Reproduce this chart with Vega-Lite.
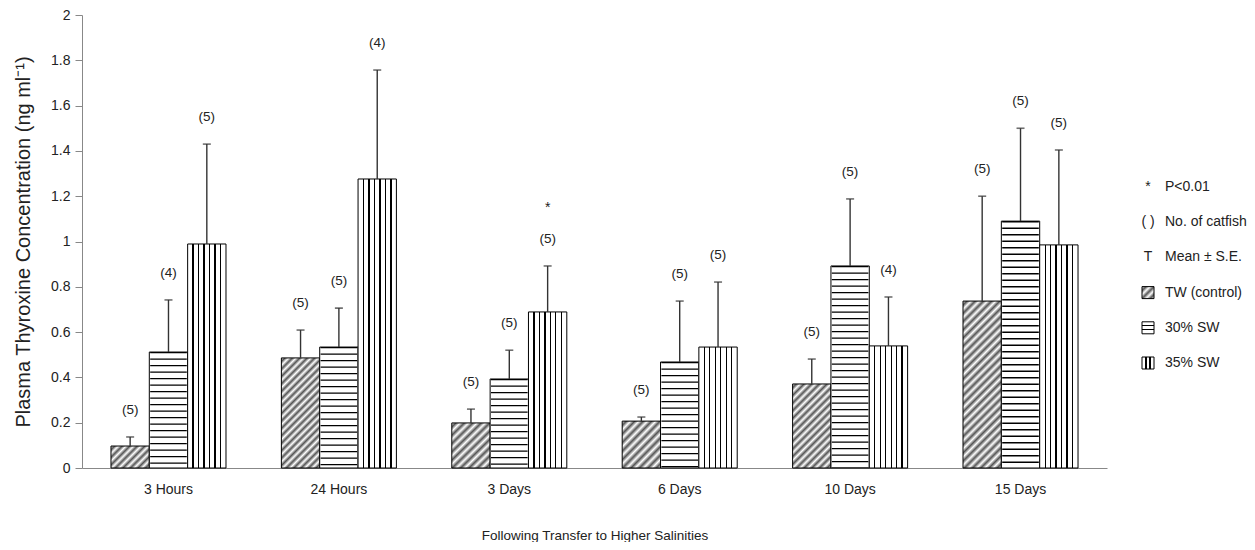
{
  "$schema": "https://vega.github.io/schema/vega-lite/v6.json",
  "background": "white",
  "padding": {"left": 13, "top": 8, "right": 0, "bottom": 0},
  "spacing": 20,
  "config": {"font": "Liberation Sans", "view": {"stroke": null}},
  "datasets": {
    "bars": [
      {"time": "3 Hours", "series": "TW (control)", "mean": 0.097, "hi": 0.137, "n": "(5)", "sig": ""},
      {"time": "3 Hours", "series": "30% SW", "mean": 0.512, "hi": 0.742, "n": "(4)", "sig": ""},
      {"time": "3 Hours", "series": "35% SW", "mean": 0.989, "hi": 1.43, "n": "(5)", "sig": ""},
      {"time": "24 Hours", "series": "TW (control)", "mean": 0.486, "hi": 0.609, "n": "(5)", "sig": ""},
      {"time": "24 Hours", "series": "30% SW", "mean": 0.534, "hi": 0.706, "n": "(5)", "sig": ""},
      {"time": "24 Hours", "series": "35% SW", "mean": 1.276, "hi": 1.757, "n": "(4)", "sig": ""},
      {"time": "3 Days", "series": "TW (control)", "mean": 0.199, "hi": 0.26, "n": "(5)", "sig": ""},
      {"time": "3 Days", "series": "30% SW", "mean": 0.393, "hi": 0.52, "n": "(5)", "sig": ""},
      {"time": "3 Days", "series": "35% SW", "mean": 0.689, "hi": 0.892, "n": "(5)", "sig": "*"},
      {"time": "6 Days", "series": "TW (control)", "mean": 0.207, "hi": 0.225, "n": "(5)", "sig": ""},
      {"time": "6 Days", "series": "30% SW", "mean": 0.468, "hi": 0.737, "n": "(5)", "sig": ""},
      {"time": "6 Days", "series": "35% SW", "mean": 0.534, "hi": 0.821, "n": "(5)", "sig": ""},
      {"time": "10 Days", "series": "TW (control)", "mean": 0.371, "hi": 0.481, "n": "(5)", "sig": ""},
      {"time": "10 Days", "series": "30% SW", "mean": 0.892, "hi": 1.188, "n": "(5)", "sig": ""},
      {"time": "10 Days", "series": "35% SW", "mean": 0.539, "hi": 0.755, "n": "(4)", "sig": ""},
      {"time": "15 Days", "series": "TW (control)", "mean": 0.737, "hi": 1.2, "n": "(5)", "sig": ""},
      {"time": "15 Days", "series": "30% SW", "mean": 1.09, "hi": 1.5, "n": "(5)", "sig": ""},
      {"time": "15 Days", "series": "35% SW", "mean": 0.985, "hi": 1.404, "n": "(5)", "sig": ""}
    ],
    "legend": [
      {"item": "P<0.01", "sym": "*"},
      {"item": "No. of catfish", "sym": "( )"},
      {"item": "Mean ± S.E.", "sym": "T"},
      {"item": "TW (control)", "sym": ""},
      {"item": "30% SW", "sym": ""},
      {"item": "35% SW", "sym": ""}
    ]
  },
  "hconcat": [
    {
      "width": 1025,
      "height": 453,
      "data": {"name": "bars"},
      "encoding": {
        "x": {
          "field": "time", "type": "nominal", "sort": null,
          "scale": {"paddingInner": 0.325, "paddingOuter": 0.17},
          "axis": {
            "title": "Following Transfer to Higher Salinities",
            "labelAngle": 0, "ticks": false, "labelPadding": 14,
            "labelFontSize": 14, "labelColor": "#222",
            "titleFontSize": 13.5, "titleFontWeight": "normal", "titleColor": "#222", "titlePadding": 32,
            "domainColor": "#888"
          }
        },
        "xOffset": {
          "field": "series", "type": "nominal", "sort": null,
          "scale": {"domain": ["TW (control)", "30% SW", "35% SW"], "paddingInner": 0, "paddingOuter": 0}
        }
      },
      "layer": [
        {
          "mark": {"type": "bar", "stroke": "#000", "strokeWidth": 1},
          "encoding": {
            "y": {
              "field": "mean", "type": "quantitative",
              "title": "Plasma Thyroxine Concentration (ng ml⁻¹)",
              "scale": {"domain": [0, 2]},
              "axis": {
                "values": [0, 0.2, 0.4, 0.6, 0.8, 1, 1.2, 1.4, 1.6, 1.8, 2],
                "format": "~g", "grid": false,
                "tickSize": 7, "tickColor": "#888", "domainColor": "#888",
                "labelFontSize": 14, "labelColor": "#222", "labelPadding": 5,
                "titleFontSize": 20, "titleFontWeight": "normal", "titleColor": "#222", "titlePadding": 17
              }
            },
            "fill": {
              "condition": [
                {"test": "datum.series === '35% SW'", "value": {"gradient": "linear", "x1": 0, "y1": 0, "x2": 1, "y2": 0, "stops": [
                  {"offset": 0, "color": "#fff"}, {"offset": 0.126, "color": "#fff"}, {"offset": 0.126, "color": "#000"}, {"offset": 0.16, "color": "#000"}, {"offset": 0.16, "color": "#fff"},
                  {"offset": 0.269, "color": "#fff"}, {"offset": 0.269, "color": "#000"}, {"offset": 0.303, "color": "#000"}, {"offset": 0.303, "color": "#fff"},
                  {"offset": 0.412, "color": "#fff"}, {"offset": 0.412, "color": "#000"}, {"offset": 0.446, "color": "#000"}, {"offset": 0.446, "color": "#fff"},
                  {"offset": 0.554, "color": "#fff"}, {"offset": 0.554, "color": "#000"}, {"offset": 0.588, "color": "#000"}, {"offset": 0.588, "color": "#fff"},
                  {"offset": 0.697, "color": "#fff"}, {"offset": 0.697, "color": "#000"}, {"offset": 0.731, "color": "#000"}, {"offset": 0.731, "color": "#fff"},
                  {"offset": 0.84, "color": "#fff"}, {"offset": 0.84, "color": "#000"}, {"offset": 0.874, "color": "#000"}, {"offset": 0.874, "color": "#fff"},
                  {"offset": 1, "color": "#fff"}]}},
                {"test": "datum.series === 'TW (control)' && datum.time === '3 Hours'", "value": {"gradient": "linear", "x1": 0, "y1": 0, "x2": 1.184, "y2": 0.679, "stops": [
                  {"offset": 0, "color": "#fff"}, {"offset": 0.0625, "color": "#555"}, {"offset": 0.125, "color": "#fff"}, {"offset": 0.1875, "color": "#555"},
                  {"offset": 0.25, "color": "#fff"}, {"offset": 0.3125, "color": "#555"}, {"offset": 0.375, "color": "#fff"}, {"offset": 0.4375, "color": "#555"},
                  {"offset": 0.5, "color": "#fff"}, {"offset": 0.5625, "color": "#555"}, {"offset": 0.625, "color": "#fff"}, {"offset": 0.6875, "color": "#555"},
                  {"offset": 0.75, "color": "#fff"}, {"offset": 0.8125, "color": "#555"}, {"offset": 0.875, "color": "#fff"}, {"offset": 0.9375, "color": "#555"},
                  {"offset": 1, "color": "#fff"}]}},
                {"test": "datum.series === 'TW (control)' && datum.time === '24 Hours'", "value": {"gradient": "linear", "x1": 0, "y1": 0, "x2": 0.42, "y2": 1.2025, "stops": [
                  {"offset": 0, "color": "#fff"}, {"offset": 0.025, "color": "#555"}, {"offset": 0.05, "color": "#fff"}, {"offset": 0.075, "color": "#555"},
                  {"offset": 0.1, "color": "#fff"}, {"offset": 0.125, "color": "#555"}, {"offset": 0.15, "color": "#fff"}, {"offset": 0.175, "color": "#555"},
                  {"offset": 0.2, "color": "#fff"}, {"offset": 0.225, "color": "#555"}, {"offset": 0.25, "color": "#fff"}, {"offset": 0.275, "color": "#555"},
                  {"offset": 0.3, "color": "#fff"}, {"offset": 0.325, "color": "#555"}, {"offset": 0.35, "color": "#fff"}, {"offset": 0.375, "color": "#555"},
                  {"offset": 0.4, "color": "#fff"}, {"offset": 0.425, "color": "#555"}, {"offset": 0.45, "color": "#fff"}, {"offset": 0.475, "color": "#555"},
                  {"offset": 0.5, "color": "#fff"}, {"offset": 0.525, "color": "#555"}, {"offset": 0.55, "color": "#fff"}, {"offset": 0.575, "color": "#555"},
                  {"offset": 0.6, "color": "#fff"}, {"offset": 0.625, "color": "#555"}, {"offset": 0.65, "color": "#fff"}, {"offset": 0.675, "color": "#555"},
                  {"offset": 0.7, "color": "#fff"}, {"offset": 0.725, "color": "#555"}, {"offset": 0.75, "color": "#fff"}, {"offset": 0.775, "color": "#555"},
                  {"offset": 0.8, "color": "#fff"}, {"offset": 0.825, "color": "#555"}, {"offset": 0.85, "color": "#fff"}, {"offset": 0.875, "color": "#555"},
                  {"offset": 0.9, "color": "#fff"}, {"offset": 0.925, "color": "#555"}, {"offset": 0.95, "color": "#fff"}, {"offset": 0.975, "color": "#555"},
                  {"offset": 1, "color": "#fff"}]}},
                {"test": "datum.series === 'TW (control)' && (datum.time === '3 Days' || datum.time === '6 Days')", "value": {"gradient": "linear", "x1": 0, "y1": 0, "x2": 0.902, "y2": 1.082, "stops": [
                  {"offset": 0, "color": "#fff"}, {"offset": 0.05, "color": "#555"}, {"offset": 0.1, "color": "#fff"}, {"offset": 0.15, "color": "#555"},
                  {"offset": 0.2, "color": "#fff"}, {"offset": 0.25, "color": "#555"}, {"offset": 0.3, "color": "#fff"}, {"offset": 0.35, "color": "#555"},
                  {"offset": 0.4, "color": "#fff"}, {"offset": 0.45, "color": "#555"}, {"offset": 0.5, "color": "#fff"}, {"offset": 0.55, "color": "#555"},
                  {"offset": 0.6, "color": "#fff"}, {"offset": 0.65, "color": "#555"}, {"offset": 0.7, "color": "#fff"}, {"offset": 0.75, "color": "#555"},
                  {"offset": 0.8, "color": "#fff"}, {"offset": 0.85, "color": "#555"}, {"offset": 0.9, "color": "#fff"}, {"offset": 0.95, "color": "#555"},
                  {"offset": 1, "color": "#fff"}]}},
                {"test": "datum.series === 'TW (control)' && datum.time === '10 Days'", "value": {"gradient": "linear", "x1": 0, "y1": 0, "x2": 0.55, "y2": 1.205, "stops": [
                  {"offset": 0, "color": "#fff"}, {"offset": 0.03125, "color": "#555"}, {"offset": 0.0625, "color": "#fff"}, {"offset": 0.09375, "color": "#555"},
                  {"offset": 0.125, "color": "#fff"}, {"offset": 0.15625, "color": "#555"}, {"offset": 0.1875, "color": "#fff"}, {"offset": 0.21875, "color": "#555"},
                  {"offset": 0.25, "color": "#fff"}, {"offset": 0.28125, "color": "#555"}, {"offset": 0.3125, "color": "#fff"}, {"offset": 0.34375, "color": "#555"},
                  {"offset": 0.375, "color": "#fff"}, {"offset": 0.40625, "color": "#555"}, {"offset": 0.4375, "color": "#fff"}, {"offset": 0.46875, "color": "#555"},
                  {"offset": 0.5, "color": "#fff"}, {"offset": 0.53125, "color": "#555"}, {"offset": 0.5625, "color": "#fff"}, {"offset": 0.59375, "color": "#555"},
                  {"offset": 0.625, "color": "#fff"}, {"offset": 0.65625, "color": "#555"}, {"offset": 0.6875, "color": "#fff"}, {"offset": 0.71875, "color": "#555"},
                  {"offset": 0.75, "color": "#fff"}, {"offset": 0.78125, "color": "#555"}, {"offset": 0.8125, "color": "#fff"}, {"offset": 0.84375, "color": "#555"},
                  {"offset": 0.875, "color": "#fff"}, {"offset": 0.90625, "color": "#555"}, {"offset": 0.9375, "color": "#fff"}, {"offset": 0.96875, "color": "#555"},
                  {"offset": 1, "color": "#fff"}]}},
                {"test": "datum.series === 'TW (control)' && datum.time === '15 Days'", "value": {"gradient": "linear", "x1": 0, "y1": 0, "x2": 0.269, "y2": 1.168, "stops": [
                  {"offset": 0, "color": "#fff"}, {"offset": 0.02, "color": "#555"}, {"offset": 0.04, "color": "#fff"}, {"offset": 0.06, "color": "#555"},
                  {"offset": 0.08, "color": "#fff"}, {"offset": 0.1, "color": "#555"}, {"offset": 0.12, "color": "#fff"}, {"offset": 0.14, "color": "#555"},
                  {"offset": 0.16, "color": "#fff"}, {"offset": 0.18, "color": "#555"}, {"offset": 0.2, "color": "#fff"}, {"offset": 0.22, "color": "#555"},
                  {"offset": 0.24, "color": "#fff"}, {"offset": 0.26, "color": "#555"}, {"offset": 0.28, "color": "#fff"}, {"offset": 0.3, "color": "#555"},
                  {"offset": 0.32, "color": "#fff"}, {"offset": 0.34, "color": "#555"}, {"offset": 0.36, "color": "#fff"}, {"offset": 0.38, "color": "#555"},
                  {"offset": 0.4, "color": "#fff"}, {"offset": 0.42, "color": "#555"}, {"offset": 0.44, "color": "#fff"}, {"offset": 0.46, "color": "#555"},
                  {"offset": 0.48, "color": "#fff"}, {"offset": 0.5, "color": "#555"}, {"offset": 0.52, "color": "#fff"}, {"offset": 0.54, "color": "#555"},
                  {"offset": 0.56, "color": "#fff"}, {"offset": 0.58, "color": "#555"}, {"offset": 0.6, "color": "#fff"}, {"offset": 0.62, "color": "#555"},
                  {"offset": 0.64, "color": "#fff"}, {"offset": 0.66, "color": "#555"}, {"offset": 0.68, "color": "#fff"}, {"offset": 0.7, "color": "#555"},
                  {"offset": 0.72, "color": "#fff"}, {"offset": 0.74, "color": "#555"}, {"offset": 0.76, "color": "#fff"}, {"offset": 0.78, "color": "#555"},
                  {"offset": 0.8, "color": "#fff"}, {"offset": 0.82, "color": "#555"}, {"offset": 0.84, "color": "#fff"}, {"offset": 0.86, "color": "#555"},
                  {"offset": 0.88, "color": "#fff"}, {"offset": 0.9, "color": "#555"}, {"offset": 0.92, "color": "#fff"}, {"offset": 0.94, "color": "#555"},
                  {"offset": 0.96, "color": "#fff"}, {"offset": 0.98, "color": "#555"}, {"offset": 1, "color": "#fff"}]}}
              ],
              "value": "#fff"
            }
          }
        },
        {
          "transform": [{"filter": "datum.series === '30% SW'"}],
          "mark": {"type": "rule", "strokeWidth": 36.6, "strokeDash": [1.3, 5.2], "color": "#000"},
          "encoding": {
            "y": {"field": "mean", "type": "quantitative", "title": "Plasma Thyroxine Concentration (ng ml⁻¹)"},
            "y2": {"datum": 0}
          }
        },
        {
          "mark": {"type": "rule", "color": "#333", "strokeWidth": 1.4},
          "encoding": {
            "y": {"field": "mean", "type": "quantitative", "title": "Plasma Thyroxine Concentration (ng ml⁻¹)"},
            "y2": {"field": "hi"}
          }
        },
        {
          "mark": {"type": "tick", "color": "#333", "thickness": 1.6, "size": 8},
          "encoding": {
            "y": {"field": "hi", "type": "quantitative", "title": "Plasma Thyroxine Concentration (ng ml⁻¹)"}
          }
        },
        {
          "mark": {"type": "text", "dy": -27, "fontSize": 13.5, "color": "#222"},
          "encoding": {
            "y": {"field": "hi", "type": "quantitative", "title": "Plasma Thyroxine Concentration (ng ml⁻¹)"},
            "text": {"field": "n"}
          }
        },
        {
          "transform": [{"filter": "datum.sig !== ''"}],
          "mark": {"type": "text", "dy": -58, "fontSize": 14, "color": "#222"},
          "encoding": {
            "y": {"field": "hi", "type": "quantitative", "title": "Plasma Thyroxine Concentration (ng ml⁻¹)"},
            "text": {"field": "sig"}
          }
        }
      ]
    },
    {
      "width": 120,
      "height": 453,
      "data": {"name": "legend"},
      "encoding": {
        "y": {"field": "item", "type": "ordinal", "sort": null, "scale": {"type": "point", "padding": 0, "range": [172, 348]}, "axis": null}
      },
      "layer": [
        {
          "mark": {"type": "text", "xOffset": -39, "fontSize": 14, "color": "#222"},
          "encoding": {"text": {"field": "sym"}}
        },
        {
          "transform": [{"filter": "datum.sym === ''"}],
          "mark": {"type": "point", "shape": "square", "size": 144, "filled": true, "opacity": 1, "stroke": "#000", "strokeWidth": 1, "xOffset": -39},
          "encoding": {
            "fill": {
              "condition": [
                {"test": "datum.item === 'TW (control)'", "value": {"gradient": "linear", "x1": 0, "y1": 0, "x2": 1, "y2": 1, "stops": [
                  {"offset": 0, "color": "#fff"}, {"offset": 0.1667, "color": "#555"}, {"offset": 0.3333, "color": "#fff"}, {"offset": 0.5, "color": "#555"},
                  {"offset": 0.6667, "color": "#fff"}, {"offset": 0.8333, "color": "#555"}, {"offset": 1, "color": "#fff"}]}},
                {"test": "datum.item === '30% SW'", "value": {"gradient": "linear", "x1": 0, "y1": 0, "x2": 0, "y2": 1, "stops": [
                  {"offset": 0, "color": "#fff"}, {"offset": 0.28, "color": "#fff"}, {"offset": 0.28, "color": "#000"}, {"offset": 0.38, "color": "#000"}, {"offset": 0.38, "color": "#fff"},
                  {"offset": 0.62, "color": "#fff"}, {"offset": 0.62, "color": "#000"}, {"offset": 0.72, "color": "#000"}, {"offset": 0.72, "color": "#fff"}, {"offset": 1, "color": "#fff"}]}},
                {"test": "datum.item === '35% SW'", "value": {"gradient": "linear", "x1": 0, "y1": 0, "x2": 1, "y2": 0, "stops": [
                  {"offset": 0, "color": "#fff"}, {"offset": 0.28, "color": "#fff"}, {"offset": 0.28, "color": "#000"}, {"offset": 0.38, "color": "#000"}, {"offset": 0.38, "color": "#fff"},
                  {"offset": 0.62, "color": "#fff"}, {"offset": 0.62, "color": "#000"}, {"offset": 0.72, "color": "#000"}, {"offset": 0.72, "color": "#fff"}, {"offset": 1, "color": "#fff"}]}}
              ],
              "value": "#fff"
            }
          }
        },
        {
          "mark": {"type": "text", "align": "left", "xOffset": -22, "fontSize": 14, "color": "#222"},
          "encoding": {"text": {"field": "item"}}
        }
      ]
    }
  ]
}
